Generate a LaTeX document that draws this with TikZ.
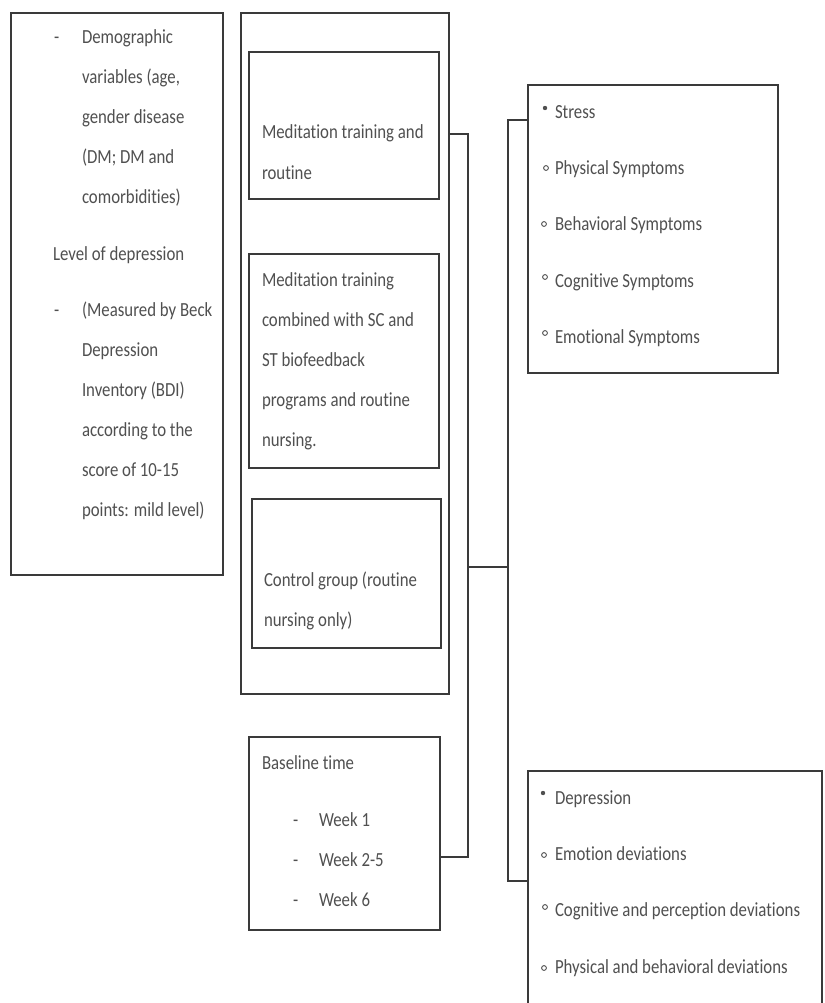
\documentclass[tikz,border=0pt]{standalone}
\usepackage{fontspec}
\setmainfont{Carlito}[FakeStretch=0.84, RawFeature=-liga]
\definecolor{txtgray}{HTML}{505050}
\definecolor{linegray}{HTML}{3A3A3A}
\begin{document}
\begin{tikzpicture}[x=1pt,y=-1pt,
  frame/.style={draw=linegray, line width=1.3pt, anchor=north west, inner sep=0pt, outer sep=0pt},
  openframe/.style={anchor=north west, inner sep=0pt, outer sep=0pt},
  conn/.style={draw=linegray, line width=1.3pt},
  txt/.style={anchor=base west, inner sep=0pt, outer sep=0pt, text=txtgray, font=\fontsize{20}{24}\selectfont},
  dotfull/.style={fill=txtgray},
  dotopen/.style={draw=txtgray, line width=0.9pt}]
\fill[white] (0,0) rectangle (824,1003);
\useasboundingbox (0,0) rectangle (824,1003);

% ---------- left box ----------
\node[frame, minimum width=212pt, minimum height=562pt] (left) at (11,13) {};
\node[txt] (l0) at (54,44) {-};
\node[txt] (l1) at (82,44) {Demographic};
\node[txt] (l2) at (82,84) {variables (age,};
\node[txt] (l3) at (82,124) {gender disease};
\node[txt] (l4) at (82,164) {(DM; DM and};
\node[txt] (l5) at (82,204) {comorbidities)};
\node[txt] (l6) at (53,260) {Level of depression};
\node[txt] (l7) at (54,316) {-};
\node[txt] (l8) at (82,316) {(Measured by Beck};
\node[txt] (l9) at (82,356) {Depression};
\node[txt] (l10) at (82,396) {Inventory (BDI)};
\node[txt] (l11) at (82,436) {according to the};
\node[txt] (l12) at (82,476) {score of 10-15};
\node[txt] (l13) at (82,516) {points: mild level)};

% ---------- middle column ----------
\node[frame, minimum width=208pt, minimum height=681pt] (mid) at (241,13) {};
\node[frame, minimum width=190pt, minimum height=147pt] (g1) at (249,52) {};
\node[txt] (g1a) at (262,139) {Meditation training and};
\node[txt] (g1b) at (262,179) {routine};

\node[frame, minimum width=190pt, minimum height=214pt] (g2) at (249,254) {};
\node[txt] (g2a) at (262,286) {Meditation training};
\node[txt] (g2b) at (262,326) {combined with SC and};
\node[txt] (g2c) at (262,366) {ST biofeedback};
\node[txt] (g2d) at (262,406) {programs and routine};
\node[txt] (g2e) at (262,446) {nursing.};

\node[frame, minimum width=189pt, minimum height=149pt] (g3) at (252,499) {};
\node[txt] (g3a) at (264,586) {Control group (routine};
\node[txt] (g3b) at (264,626) {nursing only)};

% ---------- baseline box ----------
\node[frame, minimum width=191pt, minimum height=193pt] (base) at (249,737) {};
\node[txt] (b0) at (262,769) {Baseline time};
\node[txt] (b1d) at (293,826) {-};
\node[txt] (b1) at (319,826) {Week 1};
\node[txt] (b2d) at (293,866) {-};
\node[txt] (b2) at (319,866) {Week 2-5};
\node[txt] (b3d) at (293,906) {-};
\node[txt] (b3) at (319,906) {Week 6};

% ---------- stress box ----------
\node[frame, minimum width=250pt, minimum height=288pt] (stress) at (528,85) {};
\fill[dotfull] (545,108) circle (2.2pt);
\node[txt] (s1) at (555,119) {Stress};
\draw[dotopen] (546,168) circle (2.4pt);
\node[txt] (s2) at (555,175) {Physical Symptoms};
\draw[dotopen] (544,224) circle (2.4pt);
\node[txt] (s3) at (555,230) {Behavioral Symptoms};
\draw[dotopen] (545,277) circle (2.4pt);
\node[txt] (s4) at (555,287) {Cognitive Symptoms};
\draw[dotopen] (545,333) circle (2.4pt);
\node[txt] (s5) at (555,343) {Emotional Symptoms};

% ---------- depression box (open at the bottom) ----------
\node[openframe, minimum width=294pt, minimum height=232pt] (dep) at (528,771) {};
\draw[conn] (dep.south west) -- (dep.north west) -- (dep.north east) -- (dep.south east);
\fill[dotfull] (543,793) circle (2.2pt);
\node[txt] (d1) at (555,804) {Depression};
\draw[dotopen] (544,855) circle (2.4pt);
\node[txt] (d2) at (555,860) {Emotion deviations};
\draw[dotopen] (545,907) circle (2.4pt);
\node[txt] (d3) at (555,916) {Cognitive and perception deviations};
\draw[dotopen] (544,968) circle (2.4pt);
\node[txt] (d4) at (555,973) {Physical and behavioral deviations};

% ---------- connectors ----------
\coordinate (ja) at (468,134);
\coordinate (jb) at (468,857);
\coordinate (jc) at (468,567);
\coordinate (ka) at (508,120);
\coordinate (kb) at (508,881);
\draw[conn] (mid.east |- ja) -- (ja) -- (jb) -- (base.east |- jb);
\draw[conn] (jc) -- (jc -| ka);
\draw[conn] (stress.west |- ka) -- (ka) -- (kb) -- (dep.west |- kb);
\end{tikzpicture}
\end{document}
